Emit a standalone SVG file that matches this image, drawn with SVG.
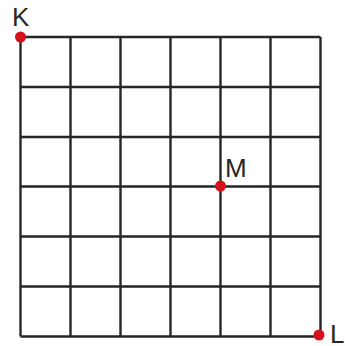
<svg xmlns="http://www.w3.org/2000/svg" width="345" height="346" viewBox="0 0 345 346">
<style>
.g{stroke:#262626;stroke-width:2.4;fill:none}
.p{fill:#d3121c}
.t{font-family:"Liberation Sans",Arial,sans-serif;font-size:26px;fill:#262626}
</style>
<rect width="345" height="346" fill="#fff"/>
<g id="grid" class="g">
<path d="M20.5 37V336.5M70.5 37V336.5M120.5 37V336.5M170.5 37V336.5M220.5 37V336.5M270.5 37V336.5M320.5 37V336.5"/>
<path d="M20.5 37H320.5M20.5 87H320.5M20.5 137H320.5M20.5 186.5H320.5M20.5 236.5H320.5M20.5 286.5H320.5M20.5 336.5H320.5"/>
</g>
<g id="K"><circle class="p" cx="20.5" cy="37" r="5.5"/><text class="t" x="12" y="26">K</text></g>
<g id="M"><circle class="p" cx="220.5" cy="186" r="5.5"/><text class="t" x="225" y="177">M</text></g>
<g id="L"><circle class="p" cx="319" cy="335" r="5.5"/><text class="t" x="330" y="343">L</text></g>
</svg>
